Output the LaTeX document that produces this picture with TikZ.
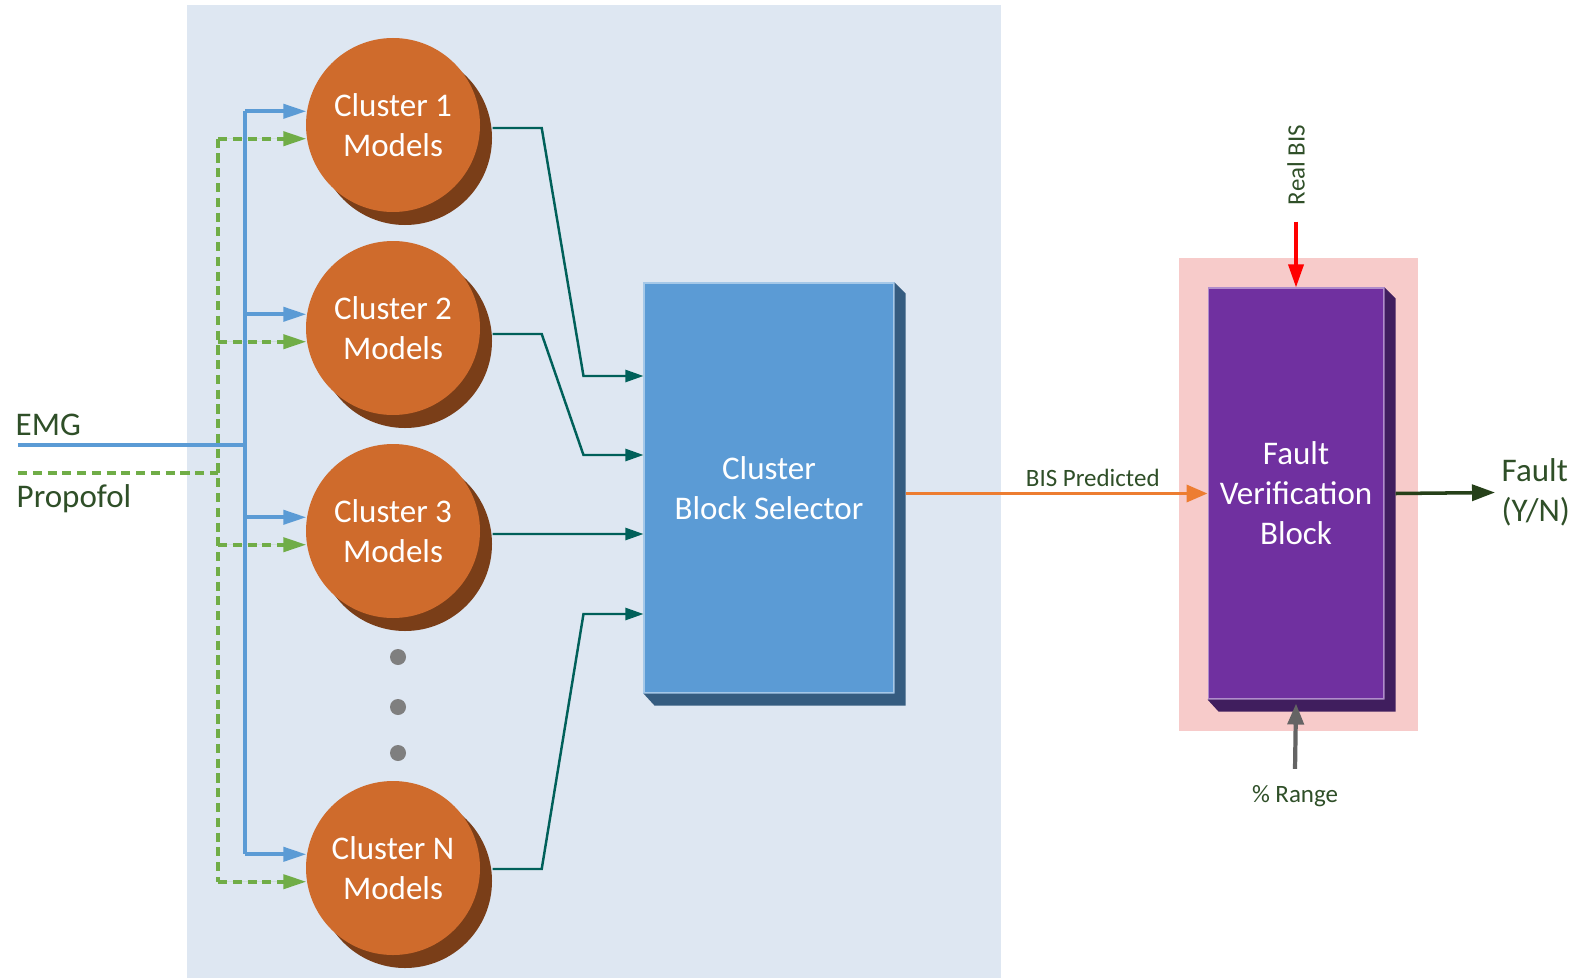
\documentclass[tikz,border=0pt]{standalone}
\usepackage{fontspec}
\setmainfont{Carlito}
\usepackage{tikz}
\usetikzlibrary{positioning, shapes.geometric, arrows.meta, calc, shadows}

\definecolor{panelblue}{RGB}{222,231,242}
\definecolor{clusterorange}{RGB}{207,107,44}
\definecolor{clustershade}{RGB}{122,62,24}
\definecolor{selblue}{RGB}{91,155,213}
\definecolor{selside}{RGB}{53,92,128}
\definecolor{faultpurple}{RGB}{112,48,160}
\definecolor{faultside}{RGB}{64,30,94}
\definecolor{faultpink}{RGB}{247,203,202}
\definecolor{emgblue}{RGB}{91,155,213}
\definecolor{propgreen}{RGB}{112,173,71}
\definecolor{linkteal}{RGB}{0,96,90}
\definecolor{bisorange}{RGB}{237,125,49}
\definecolor{labelgreen}{RGB}{47,79,40}
\definecolor{outgreen}{RGB}{38,64,25}
\definecolor{dotgray}{RGB}{127,127,127}
\definecolor{rangegray}{RGB}{100,100,100}

\newcommand{\mainsize}{\fontsize{9.4}{11.4}\selectfont}
\newcommand{\notesize}{\fontsize{7.1}{8.5}\selectfont}

\begin{document}
\begin{tikzpicture}[node distance=2.03cm, >=Triangle]

% Define block styles
\tikzstyle{cluster} = [circle, fill=clusterorange, minimum size=1.74cm, inner sep=0pt, text=white, align=center, font=\mainsize, drop shadow={shadow xshift=0.12cm, shadow yshift=-0.13cm, fill=clustershade, opacity=1}]
\tikzstyle{dot} = [circle, fill=dotgray, minimum size=0.16cm, inner sep=0pt]
\tikzstyle{selector} = [rectangle, fill=selblue, draw=white!45!selblue, line width=0.3pt, minimum width=2.5cm, minimum height=4.1cm, text=white, align=center, font=\mainsize]
\tikzstyle{verifier} = [rectangle, fill=faultpurple, draw=white!45!faultpurple, line width=0.3pt, minimum width=1.74cm, minimum height=4.11cm, text=white, align=center, font=\mainsize]
\tikzstyle{sigtext} = [text=labelgreen, font=\mainsize, align=left, inner sep=0pt]
\tikzstyle{note} = [text=labelgreen, font=\notesize]
\tikzstyle{emg} = [draw=emgblue, line width=1.1pt]
\tikzstyle{prop} = [draw=propgreen, line width=1.1pt, dash pattern=on 2.6pt off 1.6pt]
\tikzstyle{feed} = [-{Triangle[length=0.23cm, width=0.14cm]}]
\tikzstyle{link} = [draw=linkteal, line width=0.7pt, -{Triangle[length=0.18cm, width=0.12cm]}]

\useasboundingbox (0,0) rectangle (15.83,-9.79);

% Backgrounds
\fill[panelblue] (1.87,-0.05) rectangle (10.01,-9.78);
\fill[faultpink] (11.79,-2.58) rectangle (14.18,-7.31);

% Nodes
\node [cluster] (c1) at (3.93,-1.25) {Cluster 1\\Models};
\node [cluster, below of=c1] (c2) {Cluster 2\\Models};
\node [cluster, below of=c2] (c3) {Cluster 3\\Models};
\node [dot] (d1) at (3.98,-6.57) {};
\node [dot, below of=d1, node distance=0.5cm] (d2) {};
\node [dot, below of=d2, node distance=0.46cm] (d3) {};
\node [cluster, below of=c3, node distance=3.37cm] (cN) {Cluster N\\Models};

\node [selector] (sel) at (7.69,-4.88) {Cluster\\Block Selector};
\node [verifier] (fault) at (12.96,-4.935) {Fault\\Verification\\Block};

\node [sigtext, anchor=base west] (emg) at (0.15,-4.35) {EMG};
\node [sigtext, anchor=base west] (propofol) at (0.16,-5.07) {Propofol};
\node [sigtext, anchor=west] (faultout) at (15.01,-4.925) {Fault\\(Y/N)};
\node [note, rotate=90] (realbis) at (12.96,-1.65) {Real BIS};
\node [note] (range) at (12.95,-7.96) {\% Range};

\coordinate (emgin) at (0.18,-4.45);
\coordinate (emgbus) at (2.45,-4.45);
\coordinate (propin) at (0.18,-4.73);
\coordinate (propbus) at (2.18,-4.73);

% 3D sides
\fill[selside] (sel.north east) -- ++(0.11,-0.11) -- ($(sel.south east)+(0.11,-0.12)$) -- ($(sel.south west)+(0.11,-0.12)$) -- (sel.south west) -- (sel.south east) -- cycle;
\fill[faultside] (fault.north east) -- ++(0.11,-0.11) -- ($(fault.south east)+(0.11,-0.12)$) -- ($(fault.south west)+(0.11,-0.12)$) -- (fault.south west) -- (fault.south east) -- cycle;

% Connections
\draw [prop] (propin) -- (propbus);
\draw [prop] (propbus |- c1.189) -- (propbus |- cN.189);
\foreach \c in {c1,c2,c3,cN}
  \draw [prop, feed, fill=propgreen] (propbus |- \c.189) -- (\c.189);
\draw [emg] (emgin) -- (emgbus);
\draw [emg] (emgbus |- c1.171) -- (emgbus |- cN.171);
\foreach \c in {c1,c2,c3,cN}
  \draw [emg, feed, fill=emgblue] (emgbus |- \c.171) -- (\c.171);

\draw [link] ([xshift=0.12cm,yshift=-0.03cm]c1.east) -- ++(0.49,0) -- ([xshift=-0.6cm,yshift=1.12cm]sel.west) -- ([yshift=1.12cm]sel.west);
\draw [link] ([xshift=0.12cm,yshift=-0.06cm]c2.east) -- ++(0.49,0) -- ([xshift=-0.6cm,yshift=0.33cm]sel.west) -- ([yshift=0.33cm]sel.west);
\draw [link] ([xshift=0.12cm,yshift=-0.03cm]c3.east) -- ([yshift=-0.46cm]sel.west);
\draw [link] ([xshift=0.12cm,yshift=-0.01cm]cN.east) -- ++(0.49,0) -- ([xshift=-0.6cm,yshift=-1.26cm]sel.west) -- ([yshift=-1.26cm]sel.west);

\draw [draw=bisorange, line width=1pt, -{Triangle[length=0.21cm, width=0.17cm]}] ($(sel.east |- fault.west)+(0.11,0)$) -- node[note, above=0.05cm, pos=0.62, inner sep=0pt] (bislabel) {BIS Predicted} (fault.west);
\draw [draw=red, line width=1pt, -{Triangle[length=0.23cm, width=0.15cm]}] ([yshift=-0.04cm]realbis.west) -- (fault.north);
\draw [draw=rangegray, line width=1.2pt, -{Triangle[length=0.21cm, width=0.16cm]}] ([yshift=0.04cm]range.north) -- ([yshift=-0.04cm]fault.south);
\draw [draw=outgreen, line width=1pt, -{Triangle[length=0.23cm, width=0.16cm]}] ($(fault.east)+(0.11,0)$) -- ([xshift=-0.06cm]faultout.west);

\end{tikzpicture}
\end{document}
